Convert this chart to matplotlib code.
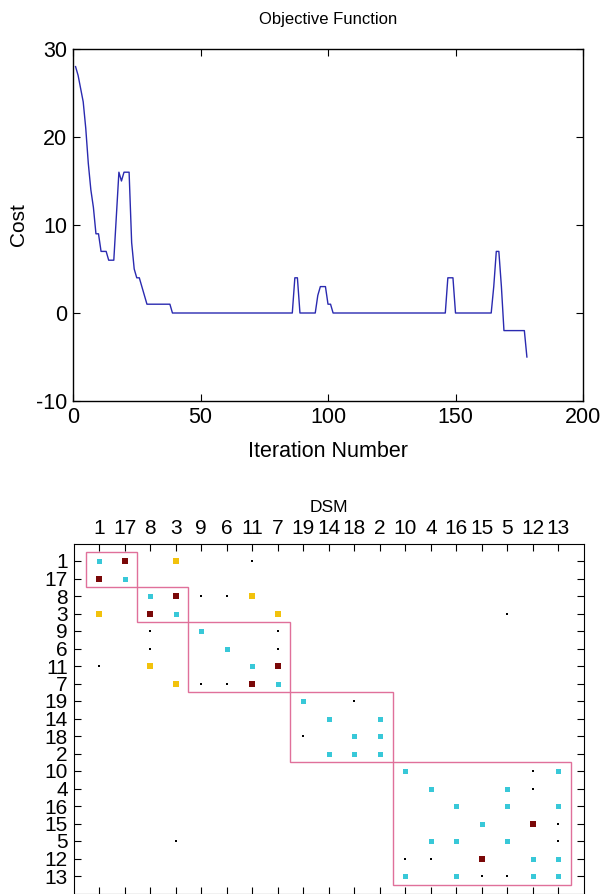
import matplotlib
matplotlib.use("Agg")
import matplotlib.pyplot as plt
from matplotlib.patches import Rectangle

plt.rcParams['font.family'] = ['Liberation Sans Narrow', 'Liberation Sans', 'DejaVu Sans']
plt.rcParams['axes.unicode_minus'] = False

# ---------------- data ----------------
iterations = [1, 2, 3, 4, 5, 6, 7, 8, 9, 10, 11, 13, 14, 16, 17, 18, 19, 20, 22,
              23, 24, 25, 26, 27, 28, 29, 38, 39, 86, 87, 88, 89, 95, 96, 97, 99,
              100, 101, 102, 146, 147, 149, 150, 164, 165, 166, 167, 168, 169,
              177, 178]
cost = [28, 27, 25.5, 24, 21, 17, 14, 12, 9, 9, 7, 7, 6, 6, 11, 16, 15, 16, 16,
        8, 5, 4, 4, 3, 2, 1, 1, 0, 0, 4, 4, 0, 0, 2, 3, 3,
        1, 1, 0, 0, 4, 4, 0, 0, 3, 7, 7, 3, -2,
        -2, -5]

xticks_top = [0, 50, 100, 150, 200]
yticks_top = [-10, 0, 10, 20, 30]

dsm_labels = ['1', '17', '8', '3', '9', '6', '11', '7', '19', '14', '18', '2',
              '10', '4', '16', '15', '5', '12', '13']

# (row, col) positions in the ordered matrix (1-based)
cyan_cells = [(i, i) for i in range(1, 20)] + [
    (10, 12), (11, 12), (12, 10), (12, 11), (13, 19), (14, 17), (15, 17),
    (15, 19), (17, 14), (17, 15), (18, 19), (19, 13), (19, 15), (19, 18)]
darkred_cells = [(1, 2), (2, 1), (3, 4), (4, 3), (7, 8), (8, 7), (16, 18), (18, 16)]
yellow_cells = [(1, 4), (4, 1), (3, 7), (4, 8), (7, 3), (8, 4)]
dot_cells = [(1, 7), (3, 5), (3, 6), (4, 17), (5, 3), (5, 8), (6, 3), (6, 8),
             (7, 1), (8, 5), (8, 6), (9, 11), (11, 9), (13, 18), (14, 18),
             (16, 19), (17, 19), (17, 4), (18, 13), (18, 14), (19, 16), (19, 17)]

# clusters: (first index, last index)
clusters = [(1, 2), (3, 4), (5, 8), (9, 12), (13, 19)]

# ---------------- figure ----------------
W, H = 605, 894
fig = plt.figure(figsize=(W / 100, H / 100), dpi=100)

def frac(x0, y0, x1, y1):
    return [x0 / W, 1 - y1 / H, (x1 - x0) / W, (y1 - y0) / H]

# Top: objective function
ax1 = fig.add_axes(frac(73, 49, 583, 401))
ax1.plot(iterations, cost, color='#2a2ab0', lw=1.0)
ax1.set_xlim(0, 200)
ax1.set_ylim(-10, 30)
ax1.set_xticks(xticks_top)
ax1.set_yticks(yticks_top)
ax1.tick_params(direction='in', length=5, top=True, right=True, labelsize=15.5, pad=4)
ax1.set_title('Objective Function', fontsize=12, pad=18)
ax1.set_xlabel('Iteration Number', fontsize=15.5, labelpad=10)
ax1.set_ylabel('Cost', fontsize=15, labelpad=6)
for s in ax1.spines.values():
    s.set_linewidth(1.0)

# Bottom: DSM
ax2 = fig.add_axes(frac(73.5, 543.5, 584, 893.5))
ax2.set_xlim(0, 20)
ax2.set_ylim(20, 0)
pos = list(range(1, 20))
ax2.set_xticks(pos)
ax2.set_yticks(pos)
ax2.set_xticklabels(dsm_labels, fontsize=15)
ax2.set_yticklabels(dsm_labels, fontsize=15)
ax2.tick_params(direction='in', length=5, top=True, right=True, bottom=True,
                labeltop=True, labelbottom=False, pad=4)
fig.text(329 / W, 1 - 507 / H, 'DSM', fontsize=12.5, ha='center', va='center')

for (a, b) in clusters:
    ax2.add_patch(Rectangle((a - 0.5, a - 0.5), b - a + 1, b - a + 1,
                            fill=False, edgecolor='#e0709a', lw=1.0, zorder=1))

def plot_cells(cells, **kw):
    rows = [r for r, c in cells]
    cols = [c for r, c in cells]
    ax2.plot(cols, rows, ls='none', marker='s', **kw)

plot_cells(cyan_cells, color='#38c8d8', markersize=3.6, mew=0, zorder=3)
plot_cells(darkred_cells, color='#7a0808', markersize=5.0, mew=0, zorder=3)
plot_cells(yellow_cells, color='#f2c20c', markersize=4.7, mew=0, zorder=3)
plot_cells(dot_cells, color='black', markersize=1.8, mew=0, zorder=3)

fig.savefig('out.png', dpi=100)
